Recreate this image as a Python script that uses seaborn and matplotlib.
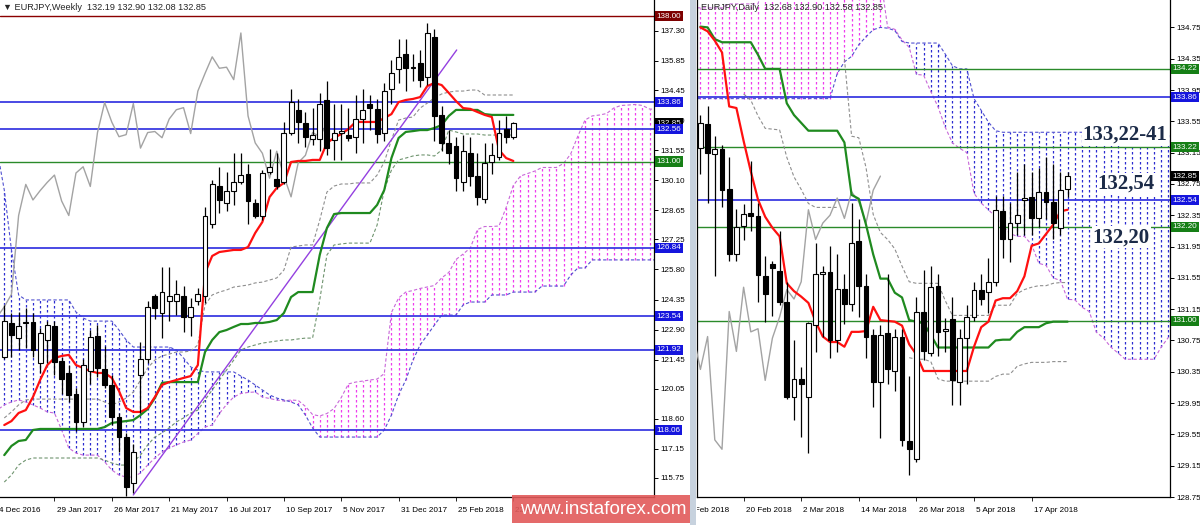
import numpy as np
import pandas as pd
import matplotlib
matplotlib.use("Agg")
import matplotlib.pyplot as plt
from matplotlib.patches import Rectangle
from matplotlib.transforms import blended_transform_factory, Bbox, TransformedBbox
import seaborn as sns

sns.set_style("white")
plt.rcParams['font.family'] = ['Liberation Sans', 'DejaVu Sans']

# ===================== WEEKLY (left panel) =====================
w_title = "\u25bc EURJPY,Weekly  132.19 132.90 132.08 132.85"
w_open = [121.6, 123.2, 122.5, 123.2, 123.25, 121.3, 122.4, 123.05, 121.4, 120.8,
          119.8, 118.45, 120.9, 122.6, 121.0, 120.25, 118.7, 117.7, 115.5, 120.7,
          121.5, 124.5, 123.7, 124.3, 124.3, 124.5, 123.5, 124.3, 124.5, 128.0,
          129.8, 129.0, 129.6, 130.0, 130.4, 129.0, 128.4, 130.5, 130.15, 130.0,
          132.4, 133.5, 132.85, 132.1, 132.1, 133.95, 132.05, 132.4, 132.3, 132.2,
          133.05, 133.8, 133.55, 132.4, 134.5, 135.45, 136.2, 135.5, 135.75, 135.1,
          137.0, 133.25, 131.9, 131.75, 130.0, 131.4, 130.3, 129.2, 131.0, 131.2,
          132.55, 132.19]
w_high = [124.1, 123.7, 123.75, 123.95, 123.7, 123.0, 123.3, 123.3, 121.6, 121.2,
          120.1, 121.5, 122.9, 123.1, 122.1, 120.7, 118.9, 117.9, 117.4, 122.3,
          124.3, 124.6, 125.9, 125.9, 125.3, 125.0, 124.4, 124.9, 128.8, 130.1,
          130.75, 130.5, 131.4, 131.4, 130.9, 129.2, 130.6, 131.6, 131.4, 132.9,
          134.5, 134.0, 133.4, 133.6, 134.3, 134.9, 133.8, 133.8, 133.6, 134.2,
          134.5, 134.2, 134.0, 134.8, 135.9, 136.9, 136.9, 136.2, 136.4, 137.7,
          137.4, 133.7, 132.5, 132.2, 132.3, 132.2, 131.4, 131.9, 131.9, 133.0,
          133.2, 132.90]
w_low = [121.5, 121.6, 121.9, 122.0, 121.6, 120.8, 121.3, 120.7, 119.8, 119.4,
         118.0, 118.2, 120.3, 120.6, 120.1, 118.3, 117.0, 114.9, 115.0, 118.9,
         121.3, 123.4, 122.5, 123.3, 123.6, 122.8, 122.6, 124.1, 124.2, 127.8,
         128.5, 128.6, 128.9, 129.9, 128.0, 128.3, 128.2, 130.4, 129.7, 129.9,
         132.3, 131.9, 131.7, 131.8, 131.5, 131.3, 131.1, 131.1, 132.0, 131.4,
         131.9, 132.5, 131.9, 132.0, 133.8, 134.8, 134.4, 134.9, 134.6, 134.7,
         132.0, 131.5, 130.9, 129.6, 129.6, 129.8, 128.9, 129.0, 130.4, 131.1,
         131.9, 132.08]
w_close = [123.3, 122.65, 123.05, 123.25, 121.9, 122.75, 123.1, 121.35, 120.5, 119.75,
           118.45, 121.2, 122.55, 121.05, 120.25, 118.7, 117.7, 115.3, 117.0, 121.5,
           124.0, 123.95, 124.7, 124.5, 124.6, 123.5, 124.0, 124.6, 128.4, 129.9,
           129.15, 129.6, 130.0, 130.35, 129.1, 128.4, 130.45, 130.75, 129.8, 132.4,
           133.85, 132.9, 132.2, 132.3, 133.8, 131.65, 132.4, 132.45, 132.15, 133.05,
           133.5, 133.6, 132.35, 134.4, 135.25, 136.05, 135.5, 135.55, 134.95, 137.2,
           133.2, 131.9, 131.4, 130.2, 131.5, 130.3, 129.3, 130.95, 131.3, 132.4,
           132.2, 132.85]
w_tenkan = [118.30, 118.49, 118.88, 119.02, 119.65, 120.47, 121.19, 121.53, 121.63, 121.68,
            121.19, 121.05, 120.90, 120.81, 120.81, 120.57, 119.94, 119.12, 118.93, 118.93,
            119.12, 119.65, 120.23, 120.37, 120.47, 120.57, 120.66, 121.19, 125.63, 126.45,
            126.64, 126.69, 126.74, 126.74, 126.88, 127.56, 128.09, 129.29, 129.73, 129.97,
            130.98, 131.03, 131.03, 131.08, 131.08, 131.90, 132.14, 132.33, 132.57, 132.91,
            132.91, 132.91, 132.91, 133.10, 133.29, 133.87, 133.97, 134.02, 134.11, 134.64,
            134.79, 134.69, 134.31, 133.92, 133.58, 133.54, 133.39, 133.25, 133.15, 131.56,
            131.17, 131.03]
w_kijun = [116.85, 117.29, 117.53, 117.58, 118.06, 118.11, 118.11, 118.11, 118.11, 118.11,
           118.11, 118.11, 118.11, 118.11, 118.20, 118.40, 118.45, 118.49, 118.54, 118.78,
           119.07, 119.60, 120.33, 120.37, 120.37, 120.37, 120.37, 120.37, 121.82, 122.40,
           122.78, 122.88, 123.03, 123.17, 123.17, 123.22, 123.22, 123.27, 123.36, 123.70,
           124.47, 124.71, 124.71, 124.71, 126.50, 127.80, 128.47, 128.52, 128.52, 128.52,
           128.52, 128.52, 128.91, 129.63, 131.17, 132.14, 132.43, 132.47, 132.52, 132.52,
           132.62, 132.76, 133.20, 133.49, 133.49, 133.49, 133.49, 133.29, 133.25, 133.25,
           133.25, 133.25]
# senkou span A before the first visible bar (cloud positions 0..26)
w_span_a_early = [119.02, 119.27, 119.41, 119.51, 119.41, 119.27, 119.12, 118.93, 118.88, 118.06,
                  117.19, 116.95, 116.85, 116.85, 116.85, 116.52, 116.13, 115.89, 115.79, 115.79,
                  115.99, 116.37, 116.71, 117.00, 117.19, 117.34, 117.48]
# senkou span B at cloud positions 0..92
w_span_b = ([131.56, 129.63, 126.74, 124.57] + [124.33] * 7 + [123.75, 123.46] + [123.31] * 4 +
            [122.88, 122.40] + [122.06] * 6 + [121.92, 121.53, 121.10, 120.95] + [120.86] * 5 +
            [120.66, 120.47, 120.23, 119.99, 119.75, 119.60, 119.51, 119.41, 119.27, 118.78, 118.16] +
            [117.72] * 9 + [118.06, 118.78, 119.75, 120.47, 121.43, 122.16, 122.64, 123.12] +
            [123.60] * 3 + [124.09] + [124.23] * 3 + [124.57] * 3 + [124.71] * 4 + [125.00] * 4 +
            [125.53] + [125.87] * 2 + [126.26] * 10)
w_dash1 = [118.64, 118.93, 119.27, 119.51, 119.55, 119.55, 119.55, 119.55, 119.55, 119.55,
           119.55, 119.55, 119.55, 119.55, 119.41, 119.27, 119.41, 119.60, 119.89, 120.47,
           121.05, 121.43, 121.63, 121.72, 121.82, 121.82, 121.87, 122.16, 124.09, 124.57,
           124.71, 124.81, 124.95, 125.00, 125.05, 125.15, 125.19, 125.29, 125.39, 125.77,
           126.88, 126.93, 126.98, 126.98, 128.18, 129.53, 129.82, 129.92, 129.92, 129.97,
           129.97, 129.97, 130.35, 130.98, 132.04, 133.00, 133.10, 133.15, 133.58, 133.82,
           134.07, 134.26, 134.35, 134.40, 134.40, 134.45, 134.45, 134.21, 134.21, 134.21,
           134.21, 134.21]
w_dash2 = [115.55, 115.89, 116.37, 116.61, 116.71, 116.71, 116.71, 116.71, 116.71, 116.71,
           116.71, 116.71, 116.71, 116.71, 116.61, 116.47, 116.37, 116.37, 116.52, 116.85,
           117.34, 117.72, 117.92, 118.16, 118.45, 118.64, 118.88, 119.02, 119.51, 119.99,
           120.47, 120.95, 121.43, 121.92, 122.06, 122.16, 122.25, 122.30, 122.35, 122.40,
           122.40, 122.45, 122.49, 122.49, 124.33, 126.50, 126.98, 127.03, 127.07, 127.07,
           127.07, 127.07, 127.94, 129.63, 130.59, 131.08, 131.17, 131.27, 131.32, 131.32,
           131.27, 131.56, 132.52, 132.43, 132.33, 132.33, 132.33, 132.28, 132.28, 132.28,
           132.28, 132.28]
w_trend_x = [19.0, 64.1]
w_trend_y = [114.93, 136.38]
w_date_pos = [0, 8, 16, 24, 32, 40, 48, 56, 64, 72]
w_date_labels = ["4 Dec 2016", "29 Jan 2017", "26 Mar 2017", "21 May 2017", "16 Jul 2017",
                 "10 Sep 2017", "5 Nov 2017", "31 Dec 2017", "25 Feb 2018", "22 Apr 2018"]
w_yticks = [137.30, 135.85, 134.45, 133.00, 131.55, 130.10, 128.65, 127.25, 125.80,
            124.35, 122.90, 121.45, 120.05, 118.60, 117.15, 115.75]
w_levels = [138.00, 133.86, 132.56, 131.00, 126.84, 123.54, 121.92, 118.06]
w_level_kind = ['red', 'blue', 'blue', 'green', 'blue', 'blue', 'blue', 'blue']
w_last = 132.85

# ===================== DAILY (right panel) =====================
d_title = "EURJPY,Daily  132.68 132.90 132.58 132.85"
d_open = [133.21, 133.51, 133.13, 133.19, 132.69, 131.85, 132.21, 132.38, 132.34, 131.58,
          131.73, 131.64, 131.24, 130.03, 130.26, 130.03, 130.95, 131.60, 131.62, 130.76,
          131.41, 131.22, 132.02, 131.45, 130.82, 130.22, 130.84, 130.36, 130.80, 129.46,
          129.23, 131.12, 130.59, 131.44, 130.87, 131.02, 130.22, 130.78, 131.05, 131.40,
          131.37, 131.50, 132.40, 132.04, 132.25, 132.55, 132.58, 132.31, 132.65, 132.52,
          132.19, 132.68]
d_high = [133.63, 133.75, 133.36, 133.25, 133.09, 132.43, 132.49, 133.04, 132.50, 131.83,
          131.76, 132.15, 131.50, 130.76, 130.41, 130.99, 132.00, 131.70, 131.96, 131.85,
          131.60, 132.50, 132.30, 131.60, 130.90, 130.95, 131.60, 130.90, 130.90, 130.30,
          131.30, 131.65, 131.70, 131.60, 131.04, 131.30, 130.90, 131.20, 131.50, 131.60,
          131.80, 132.60, 132.60, 132.50, 132.90, 133.00, 132.90, 132.95, 133.10, 133.00,
          132.90, 132.90]
d_low = [132.88, 132.50, 131.58, 132.45, 131.77, 131.77, 132.03, 132.15, 131.24, 130.99,
         131.06, 131.20, 130.00, 129.73, 129.52, 129.31, 130.60, 130.80, 130.52, 130.60,
         130.96, 131.13, 131.05, 130.52, 129.90, 129.50, 130.20, 130.10, 129.40, 129.03,
         129.20, 130.50, 130.55, 130.55, 130.60, 129.92, 129.93, 130.20, 131.00, 131.20,
         131.10, 131.45, 131.80, 131.75, 132.10, 132.10, 132.10, 132.20, 132.30, 132.05,
         132.10, 132.58]
d_close = [133.53, 133.15, 133.19, 132.67, 131.85, 132.20, 132.37, 132.34, 131.59, 131.35,
           131.67, 131.24, 130.03, 130.26, 130.19, 130.97, 131.60, 131.62, 130.76, 131.41,
           131.22, 132.00, 131.45, 130.80, 130.22, 130.82, 130.38, 130.80, 129.48, 129.36,
           131.12, 130.61, 131.43, 130.86, 130.90, 130.24, 130.78, 131.05, 131.40, 131.28,
           131.50, 132.42, 132.04, 132.25, 132.35, 132.57, 132.31, 132.65, 132.52, 132.25,
           132.67, 132.85]
d_tenkan = [134.75, 134.70, 134.58, 134.43, 133.74, 133.72, 133.30, 132.91, 132.55, 132.33,
            132.19, 132.08, 131.48, 131.38, 131.31, 131.23, 130.99, 130.80, 130.73, 130.73,
            130.67, 130.86, 130.86, 130.87, 131.18, 131.01, 131.00, 130.99, 130.94, 130.70,
            130.57, 130.36, 130.36, 130.36, 130.36, 130.36, 130.36, 130.36, 130.67, 130.92,
            130.99, 131.26, 131.29, 131.29, 131.38, 131.57, 131.96, 131.99, 132.11, 132.23,
            132.40, 132.42]
d_kijun = [134.76, 134.75, 134.60, 134.56, 134.56, 134.56, 134.56, 134.56, 134.40, 134.22,
           134.22, 134.22, 133.78, 133.63, 133.53, 133.43, 133.43, 133.43, 133.43, 133.43,
           133.28, 132.61, 132.56, 132.23, 131.85, 131.54, 131.54, 131.36, 131.30, 131.01,
           130.99, 130.97, 130.82, 130.66, 130.66, 130.66, 130.66, 130.66, 130.66, 130.66,
           130.66, 130.75, 130.76, 130.76, 130.86, 130.92, 130.92, 130.92, 130.97, 130.99,
           130.99, 130.99]
d_span_a_early = [135.00] * 6 + [135.05] * 5 + [135.40] * 17
d_span_b = ([133.84] * 21 + [134.16, 134.31, 134.38, 134.53, 134.63, 134.72, 134.75] +
            [134.74, 134.71, 134.57] + [134.55] * 5 +
            [134.41, 134.26, 134.22, 134.22, 133.84, 133.69, 133.54, 133.43] + [133.41] * 24)
d_dashA_start = 8
d_dashA = [133.90, 133.82, 133.62, 133.46, 133.45, 133.44, 133.09, 132.84, 132.68, 132.50,
           132.45, 132.45, 132.45, 132.45]
d_dashB_start = 22
d_dashB = [134.35, 133.36, 133.34, 132.96, 132.36, 132.13, 132.04, 131.92, 131.70, 131.50,
           131.48, 131.48, 131.48, 131.48, 131.26, 131.07, 131.07, 131.07, 131.07, 131.07,
           131.07, 131.20, 131.20, 131.20, 131.35, 131.40, 131.43, 131.45, 131.45, 131.48,
           131.49, 131.49]
d_dashC_start = 31
d_dashC = [130.53, 130.51, 130.51, 130.48, 130.26, 130.23, 130.23, 130.23, 130.23, 130.23,
           130.23, 130.23, 130.29, 130.32, 130.32, 130.42, 130.45, 130.47, 130.47, 130.47,
           130.48, 130.48, 130.48]
d_date_pos = [0, 8, 16, 24, 32, 40, 48]
d_date_labels = ["8 Feb 2018", "20 Feb 2018", "2 Mar 2018", "14 Mar 2018", "26 Mar 2018",
                 "5 Apr 2018", "17 Apr 2018"]
d_yticks = [134.75, 134.35, 133.95, 133.55, 133.15, 132.75, 132.35, 131.95, 131.55,
            131.15, 130.75, 130.35, 129.95, 129.55, 129.15, 128.75]
d_levels = [134.22, 133.86, 133.22, 132.54, 132.20, 131.00]
d_level_kind = ['green', 'blue', 'green', 'blue', 'green', 'green']
d_last = 132.85
d_notes = ["133,22-41", "132,54", "132,20"]
d_notes_x = [55.1, 57.2, 56.5]
d_notes_y = [133.38, 132.75, 132.07]

# ===================== styling =====================
LINE_COL = {'blue': '#3b3be2', 'green': '#2a8a2a', 'red': '#8b0000'}
BOX_COL = {'blue': '#1515dd', 'green': '#167f16', 'red': '#7d0000'}
PINK = '#ee3cee'
BLUED = '#2b2bd0'
TICK_FS = 5.8

fig = plt.figure(figsize=(12, 5.25), dpi=100)
axL = fig.add_axes([0.0, 28 / 525, 654 / 1200, 497 / 525])
axR = fig.add_axes([697 / 1200, 28 / 525, 473 / 1200, 497 / 525])


def draw_candles(ax, x, o, h, l, c, width, eps):
    x = np.asarray(x, float)
    o, h, l, c = map(lambda a: np.asarray(a, float), (o, h, l, c))
    ax.vlines(x, l, h, colors='black', linewidth=0.9, zorder=5)
    up = c >= o
    bottom = np.minimum(o, c)
    height = np.maximum(np.abs(c - o), eps)
    ax.bar(x, height, bottom=bottom, width=width,
           color=np.where(up, 'white', 'black'), edgecolor='black',
           linewidth=0.8, zorder=6)


def draw_cloud(ax, span_a, span_b):
    a = np.asarray(span_a, float)
    b = np.asarray(span_b, float)
    pos = np.arange(len(a))
    up = a >= b
    ax.vlines(pos[up], b[up], a[up], colors=PINK, linestyles=(0, (2, 2)),
              linewidth=0.9, zorder=1)
    ax.vlines(pos[~up], a[~up], b[~up], colors=BLUED, linestyles=(0, (2, 2)),
              linewidth=0.9, zorder=1)
    ax.plot(pos, a, color='#c868d8', lw=0.8, ls=(0, (3, 2)), zorder=1.5)
    ax.plot(pos, b, color='#5050d0', lw=0.8, ls=(0, (3, 2)), zorder=1.5)


def axis_box(ax, y, txt, fc, z=20):
    tr = blended_transform_factory(ax.transAxes, ax.transData)
    ax.annotate(txt, xy=(1.0, y), xycoords=tr, xytext=(2.0, 0), textcoords='offset points',
                ha='left', va='center', fontsize=TICK_FS, color='white', zorder=z,
                bbox=dict(boxstyle='square,pad=0.2', fc=fc, ec='none'),
                annotation_clip=False)


def indicator_lines(ax, pos, tenkan, kijun, chik_pos, chik_vals):
    df = pd.DataFrame({'x': pos, 'tenkan': tenkan, 'kijun': kijun})
    dc = pd.DataFrame({'x': chik_pos, 'chikou': chik_vals})
    sns.lineplot(data=dc, x='x', y='chikou', ax=ax, color='#a3a3a3', linewidth=1.0, zorder=3)
    sns.lineplot(data=df, x='x', y='kijun', ax=ax, color='#1f8a1f', linewidth=1.6, zorder=4)
    sns.lineplot(data=df, x='x', y='tenkan', ax=ax, color='#ff1010', linewidth=1.6, zorder=4.1)
    ax.set_xlabel('')
    ax.set_ylabel('')


def style_axes(ax, yticks, left_spine):
    ax.spines['top'].set_visible(False)
    ax.spines['left'].set_visible(left_spine)
    for s in ['right', 'bottom', 'left']:
        ax.spines[s].set_color('black')
        ax.spines[s].set_linewidth(0.9)
    ax.yaxis.tick_right()
    ax.set_yticks(yticks)
    ax.set_yticklabels([f"{v:.2f}" for v in yticks])
    ax.tick_params(axis='y', right=True, left=False, labelright=True, labelleft=False,
                   direction='out', length=3, width=0.7, pad=1.5, labelsize=TICK_FS,
                   colors='black')
    ax.tick_params(axis='x', bottom=True, direction='out', length=3, width=0.7,
                   labelbottom=False)
    ax.grid(False)


def date_labels(ax, positions, labels, clipbox=None):
    tr = blended_transform_factory(ax.transData, ax.transAxes)
    for p, s in zip(positions, labels):
        t = ax.text(p + 0.3, -13 / 497, s, transform=tr, ha='left', va='center',
                    fontsize=5.9, color='black', clip_on=False)
        if clipbox is not None:
            t.set_clip_box(clipbox)
            t.set_clip_on(True)


# ---------------- left panel ----------------
w_pos = np.arange(1, len(w_close) + 1)
w_span_a = np.concatenate([w_span_a_early,
                           (np.array(w_tenkan[:66]) + np.array(w_kijun[:66])) / 2])
draw_cloud(axL, w_span_a, w_span_b)
for v, k in zip(w_levels, w_level_kind):
    axL.axhline(v, color=LINE_COL[k], lw=1.3 if k == 'blue' else 1.0, zorder=2)
axL.plot(w_pos, w_dash1, color='#8f8f8f', lw=0.8, ls=(0, (3, 2)), zorder=2.5)
axL.plot(w_pos, w_dash2, color='#6f946f', lw=0.8, ls=(0, (3, 2)), zorder=2.5)
axL.plot(w_trend_x, w_trend_y, color='#9440e0', lw=1.0, zorder=3)
indicator_lines(axL, w_pos, w_tenkan, w_kijun, w_pos - 26, w_close)
draw_candles(axL, w_pos, w_open, w_high, w_low, w_close, 0.68, 0.06)
axL.set_xlim(0.404, 91.62)
axL.set_ylim(114.83, 138.79)
style_axes(axL, w_yticks, False)
axL.set_xticks([p for p in w_date_pos if p > 0.5])
date_labels(axL, w_date_pos, w_date_labels)
axis_box(axL, w_last, f"{w_last:.2f}", 'black', z=19)
for v, k in zip(w_levels, w_level_kind):
    axis_box(axL, v, f"{v:.2f}", BOX_COL[k])

# ---------------- right panel ----------------
d_pos = np.arange(2, 2 + len(d_close))
d_span_a = np.concatenate([d_span_a_early,
                           (np.array(d_tenkan[:40]) + np.array(d_kijun[:40])) / 2])
draw_cloud(axR, d_span_a, d_span_b)
for v, k in zip(d_levels, d_level_kind):
    axR.axhline(v, color=LINE_COL[k], lw=1.3 if k == 'blue' else 1.0, zorder=2)
for st, vals in [(d_dashA_start, d_dashA), (d_dashB_start, d_dashB), (d_dashC_start, d_dashC)]:
    axR.plot(np.arange(st, st + len(vals)), vals, color='#8f8f8f', lw=0.8,
             ls=(0, (3, 2)), zorder=2.5)
indicator_lines(axR, d_pos, d_tenkan, d_kijun, d_pos - 26, d_close)
draw_candles(axR, d_pos, d_open, d_high, d_low, d_close, 0.68, 0.015)
axR.set_xlim(1.528, 67.22)
axR.set_ylim(128.85, 135.10)
style_axes(axR, d_yticks, True)
axR.set_xticks([p for p in d_date_pos if p > 1.6])
clip = TransformedBbox(Bbox([[697 / 1200, 0.0], [1.0, 1.0]]), fig.transFigure)
date_labels(axR, d_date_pos, d_date_labels, clipbox=clip)
axis_box(axR, d_last, f"{d_last:.2f}", 'black', z=19)
for v, k in zip(d_levels, d_level_kind):
    axis_box(axR, v, f"{v:.2f}", BOX_COL[k])
for s, x, y in zip(d_notes, d_notes_x, d_notes_y):
    axR.text(x, y, s, ha='left', va='center', fontsize=15, fontweight='bold',
             family=['Liberation Serif', 'DejaVu Serif'], color='#1c2b48', zorder=12,
             bbox=dict(boxstyle='square,pad=0.05', fc='white', ec='none'), clip_on=False)

# ---------------- chrome ----------------
fig.text(3 / 1200, 1 - 7 / 525, w_title, fontsize=6.6, ha='left', va='center')
fig.text(701 / 1200, 1 - 7 / 525, d_title, fontsize=6.6, ha='left', va='center')
fig.add_artist(Rectangle((690 / 1200, 0), 6 / 1200, 1, transform=fig.transFigure,
                         fc='#c7d2de', ec='none', zorder=9))
fig.add_artist(Rectangle((512 / 1200, 2 / 525), 178 / 1200, 28 / 525, transform=fig.transFigure,
                         fc='#e25a5a', ec='none', alpha=0.9, zorder=10))
fig.text(603 / 1200, 16 / 525, "www.instaforex.com", color='white', fontsize=13.5,
         ha='center', va='center', zorder=11)

fig.savefig("out.png", dpi=100)
